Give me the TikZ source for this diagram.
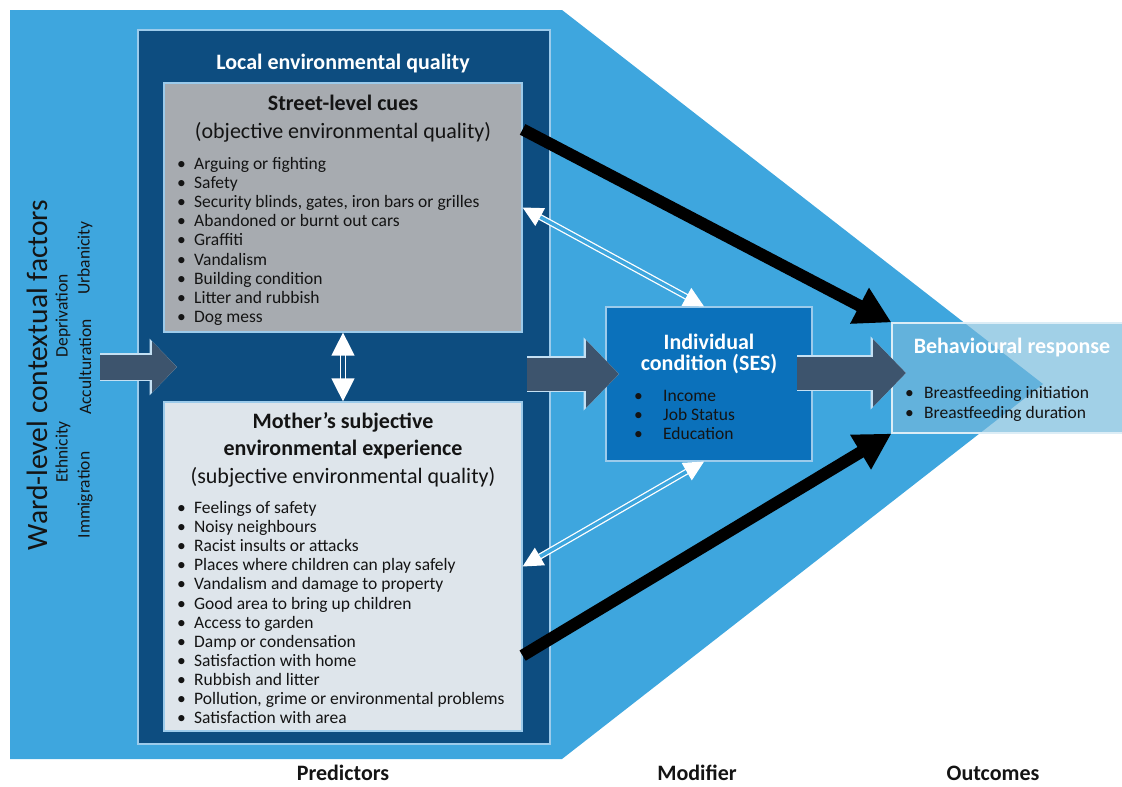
\documentclass[tikz,border=0pt]{standalone}
\usepackage{fontspec}
\setmainfont{Carlito}
\usetikzlibrary{arrows.meta}

\definecolor{sky}{HTML}{3EA6DE}
\definecolor{navy}{HTML}{0D4D80}
\definecolor{cuegray}{HTML}{A7ABB0}
\definecolor{mistgray}{HTML}{DEE5EB}
\definecolor{sesblue}{HTML}{0B71BB}
\definecolor{respblue}{RGB}{117,185,220}
\definecolor{slate}{HTML}{3D546D}
\definecolor{edge}{HTML}{9CCBEB}
\definecolor{ink}{HTML}{141414}

\tikzset{
  box/.style={draw=edge, line width=1.2pt, inner sep=0pt},
  item/.style={anchor=base west, inner sep=0pt, text=ink, font=\fontsize{17.5}{19}\selectfont},
  heading/.style={inner sep=0pt, text=ink, align=center, font=\fontsize{22}{27}\selectfont\bfseries},
  subtitle/.style={inner sep=0pt, text=ink, font=\fontsize{22}{27}\selectfont},
  factor/.style={inner sep=0pt, rotate=90, text=ink, font=\fontsize{17.5}{19}\selectfont},
  fatarrow/.style={draw=slate, line width=#1, -{Triangle[length=0pt 1,width=0pt 2]},
    preaction={draw=edge!60!white, line width=#1+2.5pt}},
  fatarrow/.default=33pt,
  effect/.style={draw=black, line width=12pt, -{Triangle[length=36pt,width=38pt]}},
  link/.style={draw=white, line width=1.3pt, double=#1, double distance=3.5pt,
    {Triangle[length=20pt,width=20pt]}-{Triangle[length=20pt,width=20pt]}}
}

\begin{document}
\begin{tikzpicture}[x=1pt,y=-1pt]
\useasboundingbox (0,0) rectangle (1122,787);
% the light blue funnel behind everything
\fill[sky] (10,10) -- (562,10) -- (1043,384) -- (562,759) -- (10,759) -- cycle;
% the boxes
\node[box, fill=navy, minimum width=412pt, minimum height=714pt] (local) at (344,387) {};
\node[box, fill=cuegray, minimum width=358pt, minimum height=249pt] (cues) at (343,207.5) {};
\node[box, fill=mistgray, minimum width=358pt, minimum height=329pt] (mother) at (343,566.5) {};
\node[box, fill=sesblue, minimum width=206pt, minimum height=154pt] (ses) at (709,384) {};
\node[box, draw=white!75!respblue, fill=respblue, fill opacity=0.68,
  minimum width=232pt, minimum height=110pt] (resp) at (1008,378) {};
% the block arrows
\coordinate (wardout) at (100,367);
\coordinate (localin) at (177,367);
\coordinate (localout) at (527,374);
\coordinate (sesin) at (619,374);
\coordinate (sesout) at (797,373);
\coordinate (respin) at (906,373);
\draw[fatarrow=25pt] (wardout) -- (localin);
\draw[fatarrow] (localout) -- (sesin);
\draw[fatarrow] (sesout) -- (respin);
% the direct effects
\draw[effect] ([yshift=-47pt]cues.north east) -- (resp.north west);
\draw[effect] ([yshift=76pt]mother.south east) -- (resp.south west);
% the two-way links
\draw[link=sky] (cues.east) -- ([xshift=-5pt]ses.north);
\draw[link=sky] ([xshift=-5pt]ses.south) -- (mother.east);
\draw[link=navy, {Triangle[length=23pt,width=23pt]}-{Triangle[length=23pt,width=23pt]}] (cues.south) -- (mother.north);
% the street-level cues
\node[heading, text=white] (localtitle) at (343,64) {Local environmental quality};
\node[heading] (cuestitle) at (343,103) {Street-level cues};
\node[subtitle] (cuesnote) at (343,132) {(objective environmental quality)};
\foreach \entry [count=\i] in {Arguing or fighting, Safety, {Security blinds, gates, iron bars or grilles},
  Abandoned or burnt out cars, Graffiti, Vandalism, Building condition, Litter and rubbish, Dog mess}
  \node[item] (cue\i) at (177,150.4+19.1*\i) {\makebox[17pt][l]{•}\entry};
% the mother's experience
\node[heading] (mothertitle) at (343,435.5) {Mother’s subjective\\environmental experience};
\node[subtitle] (mothernote) at (343,477) {(subjective environmental quality)};
\foreach \entry [count=\i] in {Feelings of safety, Noisy neighbours, Racist insults or attacks,
  Places where children can play safely, Vandalism and damage to property,
  Good area to bring up children, Access to garden, Damp or condensation,
  Satisfaction with home, Rubbish and litter, {Pollution, grime or environmental problems},
  Satisfaction with area}
  \node[item] (mother\i) at (177,494.4+19.1*\i) {\makebox[17pt][l]{•}\entry};
% the modifier
\node[heading, text=white, font=\fontsize{22}{21}\selectfont\bfseries] (sestitle) at (709,353.5) {Individual\\condition (SES)};
\foreach \entry [count=\i] in {Income, Job Status, Education}
  \node[item] (ses\i) at (634,382.5+19*\i) {\makebox[29pt][l]{•}\entry};
% the outcome
\node[heading, text=white] (resptitle) at (1012,348) {Behavioural response};
\foreach \entry [count=\i] in {Breastfeeding initiation, Breastfeeding duration}
  \node[item] (resp\i) at (905,378.5+20*\i) {\makebox[19pt][l]{•}\entry};
% the ward-level factors
\node[factor, font=\fontsize{29.5}{32}\selectfont] (ward) at (37,375) {Ward-level contextual factors};
\node[factor] (depr) at (63,316) {Deprivation};
\node[factor] (ethn) at (63,452) {Ethnicity};
\node[factor] (urban) at (85,258) {Urbanicity};
\node[factor] (accult) at (85,367) {Acculturation};
\node[factor] (immig) at (85,495) {Immigration};
% the column labels
\node[heading] (pred) at (343,773) {Predictors};
\node[heading] (modi) at (697,773) {Modifier};
\node[heading] (outc) at (993,773) {Outcomes};
\end{tikzpicture}
\end{document}
